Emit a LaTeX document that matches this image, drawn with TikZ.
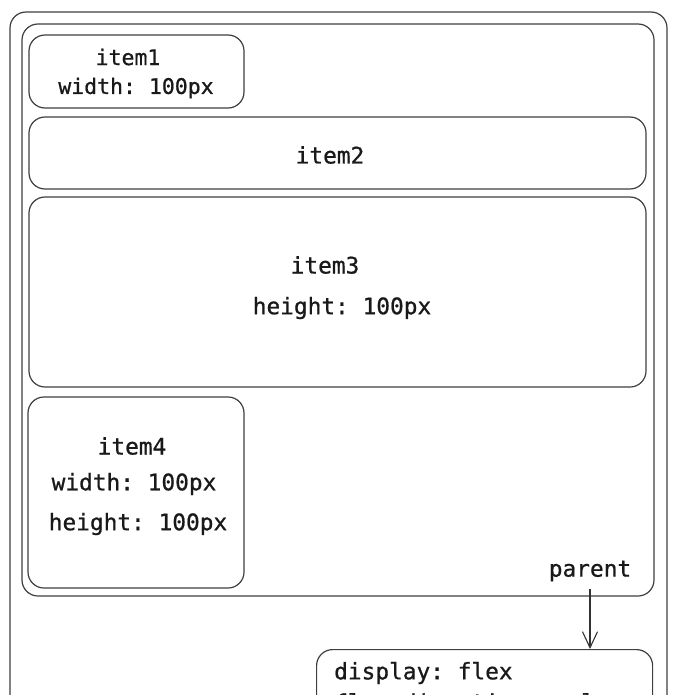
\documentclass[tikz,border=0pt]{standalone}
\usepackage{fontspec}
\setmonofont[FakeBold=0.8]{DejaVu Sans Mono}
\usetikzlibrary{arrows.meta,calc}
\tikzset{
  box/.style={draw=black!75, line width=1.2pt, rounded corners=16pt, minimum width=#1, inner sep=0pt},
  txt/.style={font=\ttfamily\fontsize{22.8}{27}\selectfont, text=black!90, inner sep=0pt},
  smalltxt/.style={font=\ttfamily\fontsize{21.5}{25}\selectfont, text=black!90, inner sep=0pt},
  conn/.style={draw=black!80, line width=1.1pt, -{Straight Barb[length=16pt,width=15pt,line width=1.1pt]}}
}
\begin{document}
\begin{tikzpicture}[x=1pt,y=-1pt]
\useasboundingbox[fill=white] (0,0) rectangle (680,695);
% outer frame
\node[box=657pt, minimum height=760pt] (outer) at (338.5,392) {};
% parent container
\node[box=632pt, minimum height=572pt] (parent) at (338,310) {};
% items
\node[box=215pt, minimum height=73pt] (item1) at (136.5,71.5) {};
\node[box=617pt, minimum height=72pt] (item2) at (337.5,153) {};
\node[box=617pt, minimum height=190pt] (item3) at (337.5,292) {};
\node[box=216pt, minimum height=191pt] (item4) at (136,492.5) {};
% css box
\node[box=336pt, minimum height=120pt, anchor=north west] (css) at (316,649) {};
% texts
\node[smalltxt] (t1a) at (128,57) {item1};
\node[smalltxt] (t1b) at (136,88) {width: 100px};
\node[txt] (t2) at (330,155) {item2};
\node[txt] (t3a) at (325,265) {item3};
\node[txt] (t3b) at (342,308) {height: 100px};
\node[txt] (t4a) at (132,446) {item4};
\node[txt] (t4b) at (134,484) {width: 100px};
\node[txt] (t4c) at (138,524) {height: 100px};
\node[txt] (plabel) at (590,571) {parent};
\node[txt, anchor=west] (c1) at (334,673) {display: flex};
\node[txt, anchor=west] (c2) at (334,702) {flex-direction: column};
% connector
\coordinate (astart) at ($(plabel.south)+(0,7)$);
\draw[conn] (astart) -- (astart |- css.north);
\end{tikzpicture}
\end{document}
